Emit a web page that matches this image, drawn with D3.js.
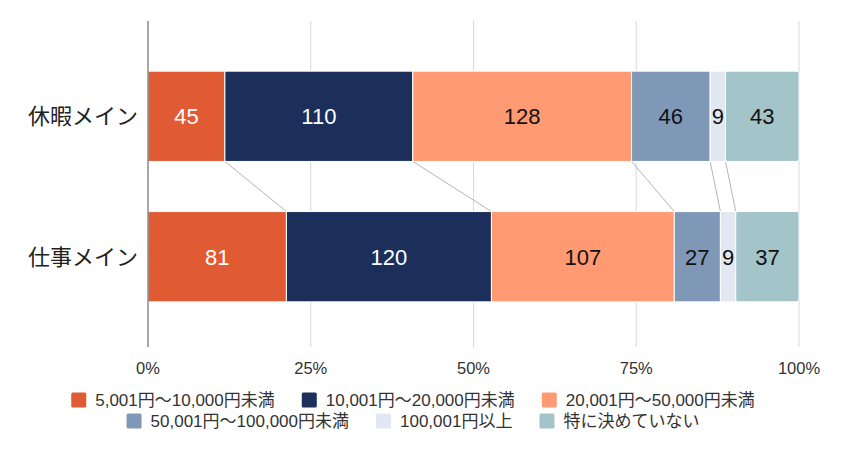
<!DOCTYPE html>
<html><head><meta charset="utf-8">
<script src="https://cdn.jsdelivr.net/npm/d3@7"></script>
<style>body{margin:0;background:#fff;} text{font-family:"Liberation Sans","Noto Sans CJK JP",sans-serif;}</style>
</head><body>
<svg id="c" width="861" height="460"></svg>
<script>
const categories = ["休暇メイン", "仕事メイン"];
const seriesNames = ["5,001円～10,000円未満", "10,001円～20,000円未満", "20,001円～50,000円未満", "50,001円～100,000円未満", "100,001円以上", "特に決めていない"];
const seriesColors = ["#E05A33", "#1B2F5A", "#FF9A72", "#8098B8", "#E2E8F1", "#A3C4C8"];
const labelColors = ["#fff", "#fff", "#111", "#111", "#111", "#111"];
const values = [
  [45, 110, 128, 46, 9, 43],
  [81, 120, 107, 27, 9, 37]
];
const tickValues = [0, 0.25, 0.5, 0.75, 1];

const svg = d3.select("#c");
const m = {l: 148, r: 799, t: 21, b: 345};
const x = d3.scaleLinear().domain([0, 1]).range([m.l, m.r]);
const y = d3.scaleBand().domain(categories).range([24, 349]).paddingInner(0.357).paddingOuter(0.336);

// grid
svg.append("g").selectAll("line").data(tickValues.slice(1)).join("line")
  .attr("x1", d => x(d)).attr("x2", d => x(d)).attr("y1", m.t).attr("y2", m.b + 2)
  .attr("stroke", "#d9d9d9").attr("stroke-width", 1);

// stacked data
const stacks = values.map((row, i) => {
  const tot = d3.sum(row);
  let acc = 0;
  return row.map((v, j) => { const s = acc / tot; acc += v; return {cat: categories[i], j, v, x0: s, x1: acc / tot}; });
});

// connectors
for (let j = 0; j < seriesNames.length - 1; j++) {
  const a = stacks[0][j], b = stacks[1][j];
  svg.append("line")
    .attr("x1", x(a.x1)).attr("y1", y(categories[0]) + y.bandwidth())
    .attr("x2", x(b.x1)).attr("y2", y(categories[1]))
    .attr("stroke", "#b5b5b5").attr("stroke-width", 1);
}

stacks.forEach(row => {
  const g = svg.append("g");
  g.selectAll("rect").data(row).join("rect")
    .attr("x", d => x(d.x0)).attr("width", d => x(d.x1) - x(d.x0))
    .attr("y", d => y(d.cat)).attr("height", y.bandwidth())
    .attr("rx", d => d.j === seriesNames.length - 1 ? 2 : 0)
    .attr("fill", d => seriesColors[d.j])
    .attr("stroke", "#fff").attr("stroke-width", 1);
  g.selectAll("text").data(row).join("text")
    .attr("x", d => (x(d.x0) + x(d.x1)) / 2).attr("y", d => y(d.cat) + y.bandwidth() / 2)
    .attr("dy", "0.36em").attr("text-anchor", "middle")
    .attr("font-size", 22).attr("fill", d => labelColors[d.j])
    .text(d => d.v);
});

// zero axis line
svg.append("line").attr("x1", x(0)).attr("x2", x(0)).attr("y1", m.t).attr("y2", m.b + 2)
  .attr("stroke", "#777").attr("stroke-width", 1.3);

// category labels
svg.append("g").selectAll("text").data(categories).join("text")
  .attr("x", 138).attr("y", d => y(d) + y.bandwidth() / 2).attr("dy", "0.36em")
  .attr("text-anchor", "end").attr("font-size", 22).attr("fill", "#222")
  .text(d => d);

// x axis tick labels
svg.append("g").selectAll("text").data(tickValues).join("text")
  .attr("x", d => x(d)).attr("y", 374).attr("text-anchor", "middle")
  .attr("font-size", 16.5).attr("fill", "#333")
  .text(d => d3.format(".0%")(d));

// legend
const rows = [[0, 1, 2], [3, 4, 5]];
const rowY = [400, 421];
const sw = 15, gapT = 9, gapItem = 27, cx = 413;
rows.forEach((r, ri) => {
  const g = svg.append("g");
  let off = 0;
  r.forEach(j => {
    const ig = g.append("g");
    ig.append("rect").attr("x", 0).attr("y", -sw / 2).attr("width", sw).attr("height", sw).attr("rx", 1.5).attr("fill", seriesColors[j]);
    const t = ig.append("text").attr("x", sw + gapT).attr("y", 0).attr("dy", "0.36em")
      .attr("font-size", 17).attr("fill", "#333").text(seriesNames[j]);
    const w = sw + gapT + t.node().getComputedTextLength();
    ig.attr("transform", `translate(${off},${rowY[ri]})`);
    off += w + gapItem;
  });
  const total = off - gapItem;
  g.attr("transform", `translate(${cx - total / 2},0)`);
});
</script>
</body></html>
